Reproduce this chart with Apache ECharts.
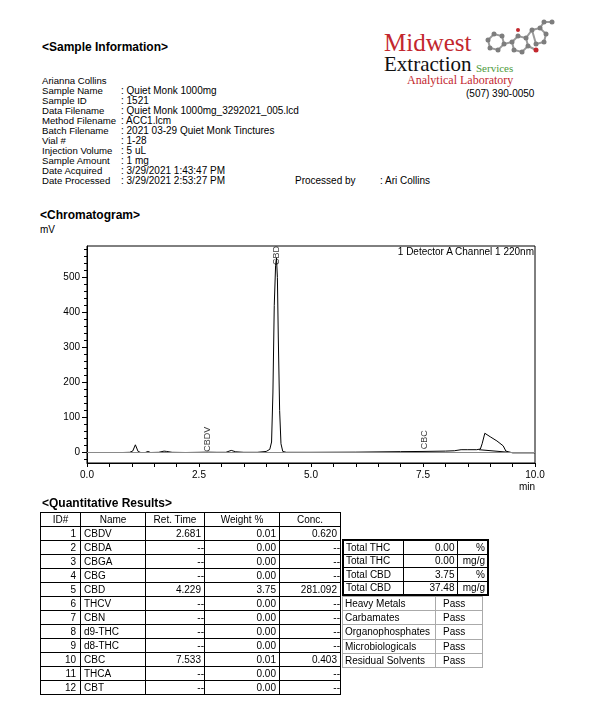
<!DOCTYPE html>
<html><head><meta charset="utf-8">
<script src="https://cdn.jsdelivr.net/npm/echarts@6/dist/echarts.min.js"></script>
<style>
body{margin:0;background:#fff;font-family:"Liberation Sans",Arial,sans-serif;color:#000;}
#page{position:relative;width:608px;height:720px;overflow:hidden;background:#fff;}
.t{position:absolute;white-space:nowrap;font-size:10px;line-height:10px;}
.ti{position:absolute;white-space:nowrap;font-size:9.6px;line-height:10px;}
.h{position:absolute;white-space:nowrap;font-weight:bold;font-size:12px;line-height:12px;}
.serif{font-family:"Liberation Serif","DejaVu Serif",serif;}
#chart{position:absolute;left:0;top:200px;width:608px;height:300px;}
table{position:absolute;border-collapse:collapse;table-layout:fixed;font-size:10px;}
td{padding:0;line-height:11px;overflow:hidden;white-space:nowrap;}
#qt td{border:1px solid #000;height:13px;}
#tt{border:2px solid #000;}
#tt td{border:1px solid #000;height:12.5px;}
#pt{border:1px solid #aaa;}
#pt td{border:1px solid #aaa;height:13.2px;}
</style></head>
<body><div id="page">
<div class="h" style="left:42px;top:41px;">&lt;Sample Information&gt;</div>
<div id="info"></div>
<div class="t" style="left:295px;top:176px;">Processed by</div>
<div class="t" style="left:380px;top:176px;">: Ari Collins</div>

<div class="serif" style="position:absolute;left:384px;top:29px;font-size:25px;line-height:28px;color:#c3272e;">Midwest</div>
<div class="serif" style="position:absolute;left:384px;top:53px;font-size:21px;line-height:22px;color:#111;">Extraction</div>
<div class="serif" style="position:absolute;left:476px;top:62px;font-size:11px;line-height:12px;color:#4e9a3a;">Services</div>
<div class="serif" style="position:absolute;left:407px;top:74px;font-size:12px;line-height:12px;color:#c3272e;">Analytical Laboratory</div>
<svg style="position:absolute;left:482px;top:18px;" width="76" height="42" viewBox="0 0 76 42">
<g stroke="#9a9a9a" stroke-width="2" fill="none">
<polyline points="6,22 12,16 20,18 22,26 16,32 8,30 6,22"/>
<polyline points="22,26 30,24 36,18 44,20 46,28 40,34 32,32 30,24"/>
<polyline points="44,20 50,12 58,10 64,16 62,24 54,26 50,12"/>
<polyline points="58,10 62,4 70,4"/>
<polyline points="46,28 54,32"/>
</g>
<g fill="#7d7d7d">
<circle cx="6" cy="22" r="2.5"/><circle cx="12" cy="16" r="2.5"/><circle cx="20" cy="18" r="2.5"/><circle cx="22" cy="26" r="2.5"/><circle cx="16" cy="32" r="2.5"/><circle cx="8" cy="30" r="2.5"/>
<circle cx="30" cy="24" r="2.5"/><circle cx="36" cy="18" r="2.5"/><circle cx="44" cy="20" r="2.5"/><circle cx="46" cy="28" r="2.5"/><circle cx="40" cy="34" r="2.5"/><circle cx="32" cy="32" r="2.5"/>
<circle cx="50" cy="12" r="2.5"/><circle cx="58" cy="10" r="2.5"/><circle cx="64" cy="16" r="2.5"/><circle cx="62" cy="24" r="2.5"/><circle cx="54" cy="26" r="2.5"/><circle cx="62" cy="4" r="2.5"/><circle cx="70" cy="4" r="2.5"/>
</g>
<circle cx="54" cy="32" r="2.5" fill="#c3272e"/><circle cx="36" cy="12" r="2" fill="#c3272e"/>
</svg>
<div class="t" style="left:466px;top:89px;">(507) 390-0050</div>

<div class="h" style="left:40px;top:209px;">&lt;Chromatogram&gt;</div>
<div class="t" style="left:40px;top:225px;">mV</div>
<div id="chart"></div>
<div class="t" style="left:380px;top:247px;width:154px;text-align:right;">1 Detector A Channel 1 220nm</div>
<div class="t" style="left:519px;top:482px;">min</div>

<div class="h" style="left:42px;top:497px;">&lt;Quantitative Results&gt;</div>
<table id="qt" style="left:40px;top:512px;width:301px;"></table>
<table id="tt" style="left:342px;top:539px;width:146px;"></table>
<table id="pt" style="left:342px;top:596px;width:140px;"></table>
</div>
<script>
// ---- sample information ----
const infoLabels = ['Arianna Collins','Sample Name','Sample ID','Data Filename','Method Filename','Batch Filename','Vial #','Injection Volume','Sample Amount','Date Acquired','Date Processed'];
const infoValues = ['','Quiet Monk 1000mg','1521','Quiet Monk 1000mg_3292021_005.lcd','ACC1.lcm','2021 03-29 Quiet Monk Tinctures','1-28','5 uL','1 mg','3/29/2021 1:43:47 PM','3/29/2021 2:53:27 PM'];

// ---- chromatogram (time in min, signal in mV) ----
const times  = [0.80,0.95,1.02,1.08,1.14,1.20,1.30,1.36,1.42,1.60,1.72,1.78,1.90,2.20,2.50,2.68,2.90,3.10,3.22,3.32,3.50,3.80,4.00,4.08,4.12,4.15,4.18,4.21,4.229,4.25,4.27,4.30,4.33,4.37,4.45,5.00,6.00,7.00,7.50,8.00,8.20,8.35,8.50,8.70,8.78,8.82,8.88,9.00,9.15,9.29,9.35,9.50,10.00];
const signal = [0,0.5,4,22,3,0,0,3,0,0.5,4,3,0.5,0,0.5,1,0.5,0.5,6,2,0.5,0.5,3,9,30,170,420,535,556,500,330,120,25,3,0.5,0.5,1,2.5,3,4,5,8,8,8,10,25,55,45,33,19,4,-1,-1];
const integTimes  = [8.75,9.38];
const integSignal = [8,1];
const peakNames  = ['CBDV','CBD','CBC'];
const peakTimes  = [2.681,4.229,7.533];
const peakLevels = [2,536,9];
const yTickLabels = [0,100,200,300,400,500];
const yMinorTicks = [-20,0,20,40,60,80,100,120,140,160,180,200,220,240,260,280,300,320,340,360,380,400,420,440,460,480,500,520,540,560,580];

// ---- quantitative results ----
const ids       = [1,2,3,4,5,6,7,8,9,10,11,12];
const compounds = ['CBDV','CBDA','CBGA','CBG','CBD','THCV','CBN','d9-THC','d8-THC','CBC','THCA','CBT'];
const retTimes  = ['2.681','--','--','--','4.229','--','--','--','--','7.533','--','--'];
const weights   = ['0.01','0.00','0.00','0.00','3.75','0.00','0.00','0.00','0.00','0.01','0.00','0.00'];
const concs     = ['0.620','--','--','--','281.092','--','--','--','--','0.403','--','--'];
const totalNames  = ['Total THC','Total THC','Total CBD','Total CBD'];
const totalValues = ['0.00','0.00','3.75','37.48'];
const totalUnits  = ['%','mg/g','%','mg/g'];
const testNames   = ['Heavy Metals','Carbamates','Organophosphates','Microbiologicals','Residual Solvents'];
const testResults = ['Pass','Pass','Pass','Pass','Pass'];

// build info text
let ih = '';
infoLabels.forEach((l,i)=>{
  const top = 76 + i*10;
  ih += `<div class="ti" style="left:42px;top:${top}px;">${l}</div>`;
  if (infoValues[i]) ih += `<div class="t" style="left:121px;top:${top}px;">: ${infoValues[i]}</div>`;
});
document.getElementById('info').innerHTML = ih;

// build tables
const cell = (v, align, pad) => `<td style="text-align:${align};${pad}">${v}</td>`;
let q = '<colgroup><col style="width:40px"><col style="width:65px"><col style="width:59px"><col style="width:75px"><col style="width:61px"></colgroup>';
q += '<tr>' + ['ID#','Name','Ret. Time','Weight %','Conc.'].map(h=>cell(h,'center','')).join('') + '</tr>';
ids.forEach((id,i)=>{
  const rp = v => v==='--' ? 'padding-right:0' : 'padding-right:3px';
  q += '<tr>' + cell(id,'right','padding-right:4px') + cell(compounds[i],'left','padding-left:3px')
     + cell(retTimes[i],'right',rp(retTimes[i])) + cell(weights[i],'right','padding-right:3px')
     + cell(concs[i],'right',rp(concs[i])) + '</tr>';
});
document.getElementById('qt').innerHTML = q;

let t = '<colgroup><col style="width:60px"><col style="width:54px"><col style="width:31px"></colgroup>';
totalNames.forEach((n,i)=>{
  t += '<tr>' + cell(n,'left','padding-left:2px') + cell(totalValues[i],'right','padding-right:2px') + cell(totalUnits[i],'right','padding-right:2px') + '</tr>';
});
document.getElementById('tt').innerHTML = t;

let p = '<colgroup><col style="width:93px"><col style="width:47px"></colgroup>';
testNames.forEach((n,i)=>{
  p += '<tr>' + cell(n,'left','padding-left:2px') + cell(testResults[i],'left','padding-left:7px') + '</tr>';
});
document.getElementById('pt').innerHTML = p;

// ---- chart ----
const FONT = '"Liberation Sans", Arial, sans-serif';
const chart = echarts.init(document.getElementById('chart'), null, {renderer:'canvas'});
chart.setOption({
  animation:false,
  textStyle:{fontFamily:FONT},
  grid:{left:87, right:73, top:46, bottom:37, show:true, borderColor:'#000', borderWidth:1, backgroundColor:'transparent'},
  xAxis:{
    type:'value', min:0, max:10, interval:2.5,
    axisLine:{show:true, onZero:false, lineStyle:{color:'#000', width:1}},
    axisTick:{show:true, length:4, lineStyle:{color:'#000'}},
    minorTick:{show:true, splitNumber:5, length:4, lineStyle:{color:'#000'}},
    axisLabel:{margin:7, color:'#000', fontSize:10, fontFamily:FONT, formatter:v=>v.toFixed(1)},
    splitLine:{show:false}, minorSplitLine:{show:false}
  },
  yAxis:[{
    type:'value', min:-30, max:590,
    axisLine:{show:true, onZero:false, lineStyle:{color:'#000', width:1}},
    axisTick:{show:true, length:5, customValues:yTickLabels, lineStyle:{color:'#000'}},
    axisLabel:{margin:7, color:'#000', fontSize:10, fontFamily:FONT, customValues:yTickLabels},
    splitLine:{show:false}
  },{
    type:'value', min:-30, max:590, position:'left', offset:0,
    axisLine:{show:false},
    axisTick:{show:true, length:3, customValues:yMinorTicks, lineStyle:{color:'#000'}},
    axisLabel:{show:false},
    splitLine:{show:false}
  }],
  series:[
    {
      type:'line', data:times.map((x,i)=>[x, signal[i]]), showSymbol:false, symbol:'none',
      lineStyle:{color:'#000', width:1}, z:3,
      markLine:{silent:true, symbol:['none','none'], label:{show:false},
        lineStyle:{color:'#8a8a8a', type:'solid', width:1}, data:[{yAxis:0}]}
    },
    {
      type:'line', data:integTimes.map((x,i)=>[x, integSignal[i]]), showSymbol:false, symbol:'none',
      lineStyle:{color:'#000', width:1}, z:3
    },
    {
      type:'scatter', symbolSize:0, z:4,
      data:peakTimes.map((x,i)=>({value:[x, peakLevels[i]], name:peakNames[i]})),
      label:{show:true, formatter:'{b}', rotate:90, position:[0,0], align:'left', verticalAlign:'middle',
        fontSize:9, color:'#000', fontFamily:FONT}
    }
  ]
});
</script>
</body></html>
